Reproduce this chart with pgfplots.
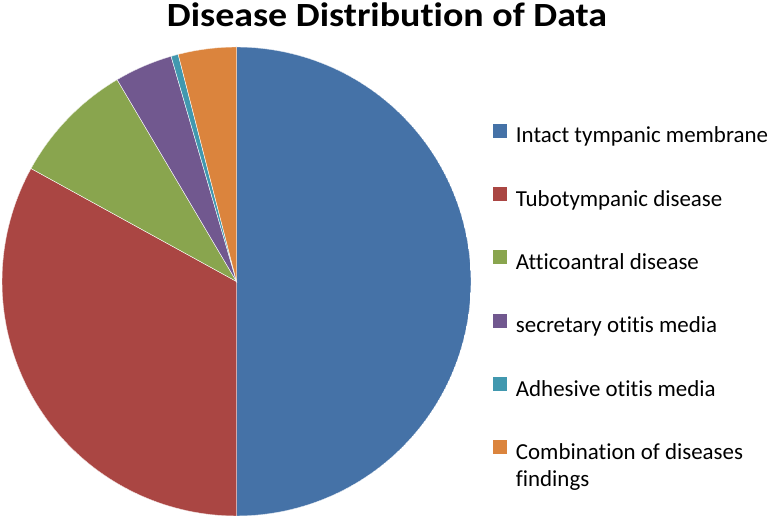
\documentclass[border=0pt]{standalone}
\usepackage{pgfplots}
\pgfplotsset{compat=1.18}
\usepgfplotslibrary{polar}
\usepackage{fontspec}
\setmainfont{Carlito}[Ligatures={NoCommon,NoContextual}]
\definecolor{cA}{HTML}{4572A7}
\definecolor{cB}{HTML}{AA4643}
\definecolor{cC}{HTML}{89A54E}
\definecolor{cD}{HTML}{71588F}
\definecolor{cE}{HTML}{4198AF}
\definecolor{cF}{HTML}{DB843D}
% shares in percent
\def\vA{50}\def\vB{33}\def\vC{8.5}\def\vD{4}\def\vE{0.5}\def\vF{4}
\begin{document}
\begin{tikzpicture}[x=1bp,y=1bp]
\useasboundingbox (0,0) rectangle (774,519);
\pgfmathsetmacro\aO{90}
\pgfmathsetmacro\aA{\aO-3.6*\vA}
\pgfmathsetmacro\aB{\aA-3.6*\vB}
\pgfmathsetmacro\aC{\aB-3.6*\vC}
\pgfmathsetmacro\aD{\aC-3.6*\vD}
\pgfmathsetmacro\aE{\aD-3.6*\vE}
\pgfmathsetmacro\aF{\aE-3.6*\vF}
\begin{polaraxis}[
  at={(236.5bp,237.5bp)}, anchor=center,
  width=469bp, height=469bp, scale only axis,
  hide axis, ymin=0, ymax=1,
  area legend,
  legend image code/.code={\draw[#1, draw=white, line width=0.3pt] (0bp,-0.5bp) rectangle (15bp,14.5bp);},
  legend cell align=left,
  legend style={at={(1.044,0.839)}, anchor=north west, draw=none, fill=none,
    inner sep=0pt, outer sep=0pt,
    font=\fontsize{23}{27}\selectfont, row sep=37.2bp,
    /tikz/every odd column/.append style={column sep=9bp},
    nodes={text height=17bp, text depth=6bp, inner sep=0pt, outer sep=0pt}},
]
\addplot[fill=cA, draw=white, line width=0.4pt, domain=\aA:\aO, samples=120] {1} -- (axis cs:0,0) -- cycle;
\addlegendentry{Intact tympanic membrane}
\addplot[fill=cB, draw=white, line width=0.4pt, domain=\aB:\aA, samples=80] {1} -- (axis cs:0,0) -- cycle;
\addlegendentry{Tubotympanic disease}
\addplot[fill=cC, draw=white, line width=0.4pt, domain=\aC:\aB, samples=30] {1} -- (axis cs:0,0) -- cycle;
\addlegendentry{Atticoantral disease}
\addplot[fill=cD, draw=white, line width=0.4pt, domain=\aD:\aC, samples=15] {1} -- (axis cs:0,0) -- cycle;
\addlegendentry{secretary otitis media}
\addplot[fill=cE, draw=white, line width=0.4pt, domain=\aE:\aD, samples=4] {1} -- (axis cs:0,0) -- cycle;
\addlegendentry{Adhesive otitis media}
\addplot[fill=cF, draw=white, line width=0.4pt, domain=\aF:\aE, samples=15] {1} -- (axis cs:0,0) -- cycle;
\addlegendentry{\begin{tabular}[t]{@{}l@{}}Combination of diseases\\findings\end{tabular}}
\end{polaraxis}
\node[font=\fontsize{34}{40}\bfseries\selectfont, anchor=base, xscale=1.12, inner sep=0pt] at (387,492.5) {Disease Distribution of Data};
\end{tikzpicture}
\end{document}
